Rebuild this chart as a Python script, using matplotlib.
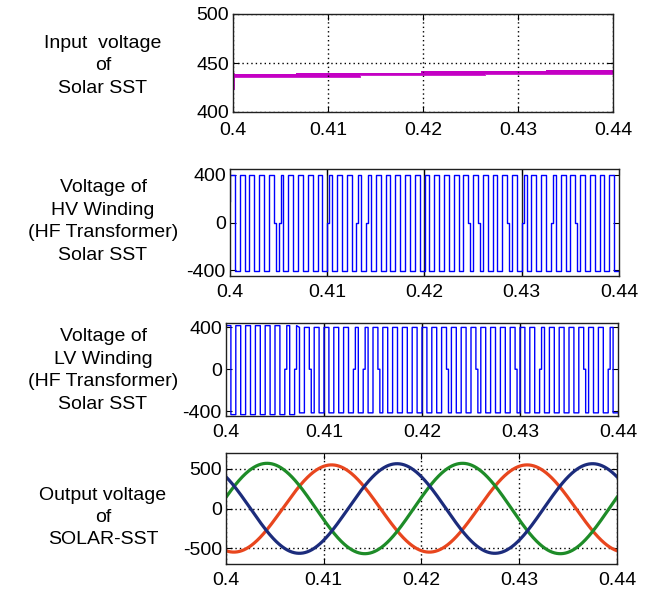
import numpy as np
import matplotlib
matplotlib.use('Agg')
import matplotlib.pyplot as plt

plt.rcParams['font.family'] = ['Liberation Sans', 'DejaVu Sans']
plt.rcParams['axes.unicode_minus'] = False

# time window and x ticks shared by all panels
t_start, t_end = 0.40, 0.44
x_ticks = [0.40, 0.41, 0.42, 0.43, 0.44]
x_ticklabels = ['0.4', '0.41', '0.42', '0.43', '0.44']

# input dc voltage (ripple band with small steps)
vin_t = [0.4000, 0.4066, 0.4134, 0.4198, 0.4265, 0.4330, 0.4400]
vin_upper = [438.6, 440.0, 440.0, 441.5, 441.5, 443.2, 443.2]
vin_lower = [435.8, 435.8, 437.3, 437.3, 438.9, 438.9, 438.9]
vin_dip = 424.5

# HV winding square wave
hv_freq = 1000.0
hv_start = 180.0
hv_level_t = [0.400]
hv_high = [400.0]
hv_low = [-405.0]
hv_zero_edges = [0.4045, 0.4050, 0.4100, 0.4130, 0.4140, 0.4245, 0.4255,
                 0.4285, 0.4300, 0.4330, 0.4355, 0.4400]

# LV winding square wave
lv_freq = 1000.0
lv_start = 200.0
lv_level_t = [0.400, 0.4071]
lv_high = [415.0, 398.0]
lv_low = [-432.0, -415.0]
lv_zero_edges = [0.4060, 0.4070, 0.4085, 0.4130, 0.4140, 0.4155, 0.4225,
                 0.4255, 0.4295, 0.4320, 0.4365, 0.4390]

# three phase output
out_freq = 50.0
out_amp = [550.0, 570.0, 565.0]
out_peak_t = [0.4108, 0.4042, 0.4175]
out_colors = ['#e8461e', '#1e8c28', '#1c2c7c']

labels = ['Input  voltage\nof\nSolar SST',
          'Voltage of\nHV Winding\n(HF Transformer)\nSolar SST',
          'Voltage of\nLV Winding\n(HF Transformer)\nSolar SST',
          'Output voltage\nof\nSOLAR-SST']


def step_level(t, times, levels):
    i = np.searchsorted(times, t, side='right') - 1
    return levels[max(i, 0)]


def square_wave(freq, start_val, level_t, highs, lows, zero_edges, dwell=0.0002):
    half = 0.5 / freq
    n = int(round((t_end - t_start) / half))
    edges = [t_start + k * half for k in range(n + 1)]
    zero_k = set(int(round((z - t_start) / half)) for z in zero_edges)
    xs = [t_start, t_start]
    ys = [start_val, step_level(t_start, level_t, highs)]
    seg_start = t_start
    for k in range(1, n + 1):
        te = edges[k]
        cur = step_level(seg_start, level_t, highs if (k - 1) % 2 == 0 else lows)
        xs.append(te)
        ys.append(cur)
        if k == n:
            break
        nxt = step_level(te, level_t, highs if k % 2 == 0 else lows)
        if k in zero_k:
            xs += [te, te + dwell, te + dwell]
            ys += [0.0, 0.0, nxt]
            seg_start = te + dwell
        else:
            xs.append(te)
            ys.append(nxt)
            seg_start = te
    return np.array(xs), np.array(ys)


def style_axes(ax, yticks, grid_x=True, grid_y=True, solid_x=False, xpad=6):
    ax.set_xlim(t_start, t_end)
    ax.set_xticks(x_ticks)
    ax.set_xticklabels(x_ticklabels)
    ax.set_yticks(yticks)
    ax.tick_params(direction='in', length=4, width=0.8, labelsize=14,
                   top=True, right=True, colors='black')
    ax.tick_params(axis='x', pad=xpad)
    ax.tick_params(axis='y', pad=3)
    for s in ax.spines.values():
        s.set_linewidth(1.0)
        s.set_color('#202020')
    if solid_x:
        for xt in x_ticks[1:-1]:
            ax.axvline(xt, color='#202020', lw=1.0, zorder=1)
    if grid_x:
        ax.grid(True, axis='x', color='black', lw=1.0, linestyle=(0, (1, 2.2)))
    if grid_y:
        ax.grid(True, axis='y', color='black', lw=1.0, linestyle=(0, (1, 2.2)))


fig = plt.figure(figsize=(6.56, 5.91), dpi=100)
W, H = 656.0, 591.0


def px_axes(x0, y0, x1, y1):
    return fig.add_axes([x0 / W, 1 - y1 / H, (x1 - x0) / W, (y1 - y0) / H])


# panel 1: input voltage
ax1 = px_axes(233, 14, 613, 112)
ax1.fill_between(vin_t, vin_lower, vin_upper, step='post', color='#c400c4', lw=0)
ax1.step(vin_t, vin_upper, where='post', color='#c400c4', lw=0.6)
ax1.step(vin_t, vin_lower, where='post', color='#c400c4', lw=0.6)
ax1.plot([t_start, t_start], [vin_dip, vin_upper[0]], color='#c400c4', lw=2.0)
ax1.set_ylim(400, 500)
style_axes(ax1, [400, 450, 500], xpad=7)

# panel 2: HV winding
ax2 = px_axes(230, 169, 619, 276)
x, y = square_wave(hv_freq, hv_start, hv_level_t, hv_high, hv_low, hv_zero_edges)
ax2.plot(x, y, color='#0000ff', lw=1.0, zorder=2)
ax2.set_ylim(-450, 450)
style_axes(ax2, [-400, 0, 400], grid_x=False, grid_y=False, solid_x=True)

# panel 3: LV winding
ax3 = px_axes(226, 323, 618, 416)
x, y = square_wave(lv_freq, lv_start, lv_level_t, lv_high, lv_low, lv_zero_edges)
ax3.plot(x, y, color='#0000ff', lw=1.0, zorder=2)
ax3.set_ylim(-445, 440)
style_axes(ax3, [-400, 0, 400], grid_x=False, grid_y=False, solid_x=True)

# panel 4: three phase output
ax4 = px_axes(226, 453, 617, 564)
t = np.linspace(t_start, t_end, 2000)
for amp, tp, c in zip(out_amp, out_peak_t, out_colors):
    ax4.plot(t, amp * np.cos(2 * np.pi * out_freq * (t - tp)), color=c, lw=2.3)
ax4.set_ylim(-700, 700)
style_axes(ax4, [-500, 0, 500])

# side labels
label_y = [66, 221.5, 370.5, 517.5]
for txt, yc in zip(labels, label_y):
    fig.text(103 / W, 1 - yc / H, txt, ha='center', va='center',
             multialignment='center', fontsize=14, linespacing=1.42)

fig.savefig('out.png', dpi=100)
